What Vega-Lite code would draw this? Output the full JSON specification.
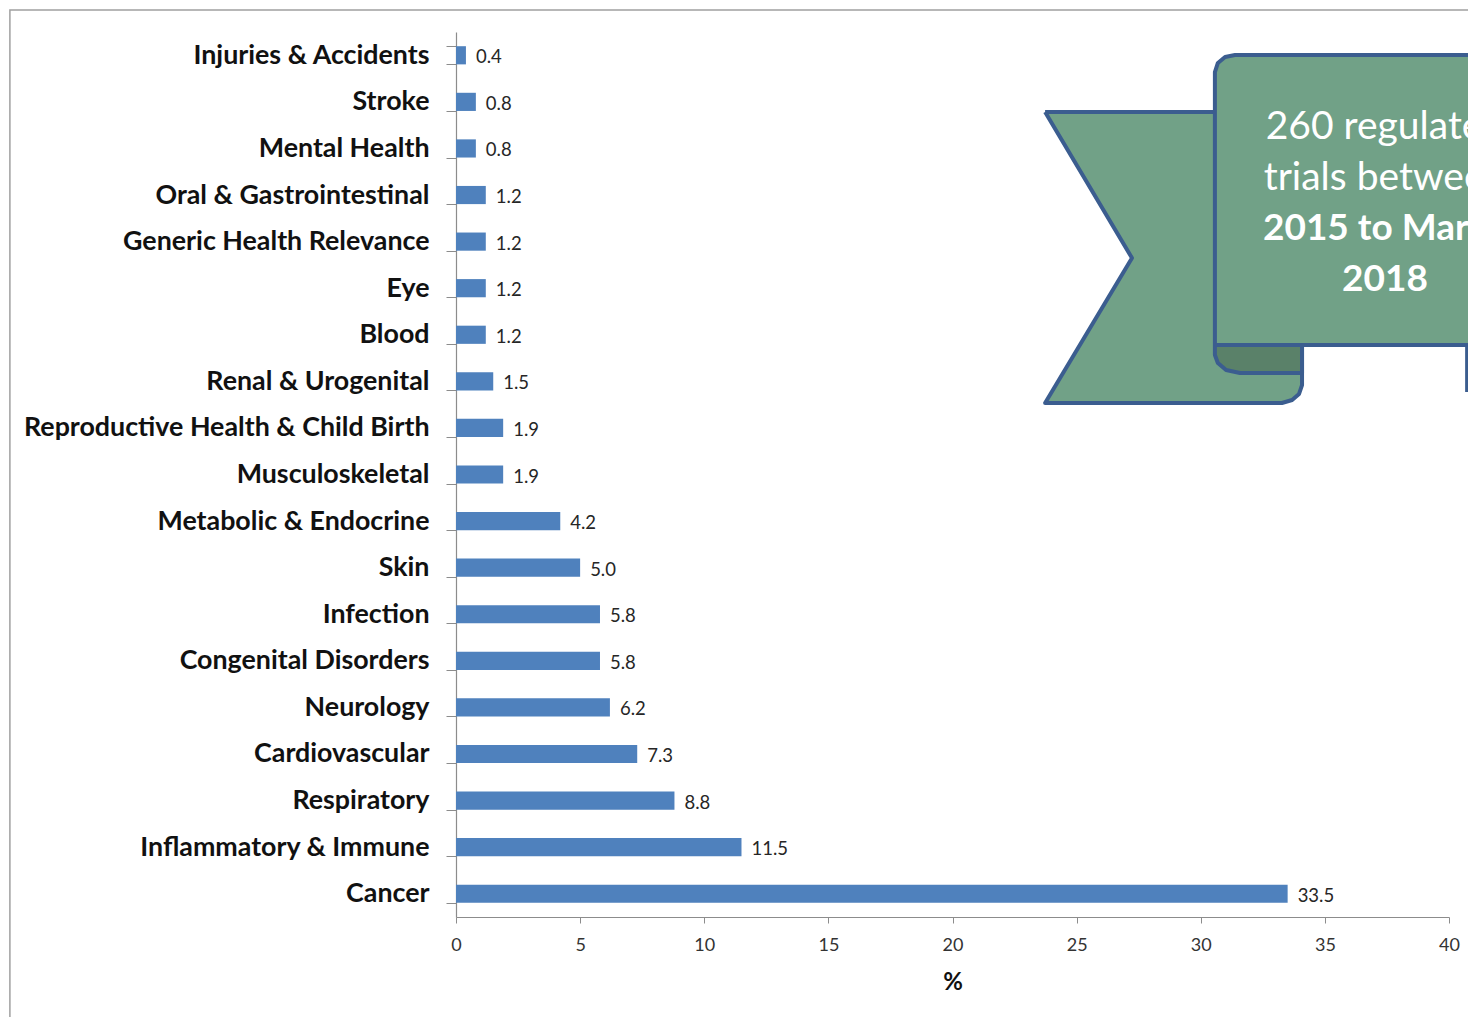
{
  "$schema": "https://vega.github.io/schema/vega-lite/v6.json",
  "width": 993,
  "height": 885,
  "autosize": "none",
  "padding": {"left": 456, "top": 32, "right": 19, "bottom": 100},
  "background": "white",
  "config": {"view": {"stroke": null}},
  "datasets": {
    "bars": [
      {"category": "Injuries & Accidents", "pct": 0.4},
      {"category": "Stroke", "pct": 0.8},
      {"category": "Mental Health", "pct": 0.8},
      {"category": "Oral & Gastrointestinal", "pct": 1.2},
      {"category": "Generic Health Relevance", "pct": 1.2},
      {"category": "Eye", "pct": 1.2},
      {"category": "Blood", "pct": 1.2},
      {"category": "Renal & Urogenital", "pct": 1.5},
      {"category": "Reproductive Health & Child Birth", "pct": 1.9},
      {"category": "Musculoskeletal", "pct": 1.9},
      {"category": "Metabolic & Endocrine", "pct": 4.2},
      {"category": "Skin", "pct": 5.0},
      {"category": "Infection", "pct": 5.8},
      {"category": "Congenital Disorders", "pct": 5.8},
      {"category": "Neurology", "pct": 6.2},
      {"category": "Cardiovascular", "pct": 7.3},
      {"category": "Respiratory", "pct": 8.8},
      {"category": "Inflammatory & Immune", "pct": 11.5},
      {"category": "Cancer", "pct": 33.5}
    ],
    "frame": [
      {"x0": -17.97, "x1": 50, "y0": -20, "y1": 102.49}
    ],
    "banner": [
      {"piece": "back", "i": 1, "bx": 23.73, "by": 90.96},
      {"piece": "back", "i": 2, "bx": 34.08, "by": 90.96},
      {"piece": "back", "i": 3, "bx": 34.08, "by": 60.11},
      {"piece": "back", "i": 4, "bx": 33.96, "by": 59.10},
      {"piece": "back", "i": 5, "bx": 33.68, "by": 58.42},
      {"piece": "back", "i": 6, "bx": 33.27, "by": 58.08},
      {"piece": "back", "i": 7, "bx": 23.73, "by": 58.08},
      {"piece": "back", "i": 8, "bx": 27.23, "by": 74.46},
      {"piece": "back", "i": 9, "bx": 23.73, "by": 90.96},
      {"piece": "fold", "i": 1, "bx": 30.57, "by": 64.63},
      {"piece": "fold", "i": 2, "bx": 34.08, "by": 64.63},
      {"piece": "fold", "i": 3, "bx": 34.08, "by": 61.47},
      {"piece": "fold", "i": 4, "bx": 31.58, "by": 61.47},
      {"piece": "fold", "i": 5, "bx": 31.02, "by": 61.81},
      {"piece": "fold", "i": 6, "bx": 30.69, "by": 62.60},
      {"piece": "fold", "i": 7, "bx": 30.57, "by": 63.50},
      {"piece": "fold", "i": 8, "bx": 30.57, "by": 64.63},
      {"piece": "front", "i": 1, "bx": 30.57, "by": 64.63},
      {"piece": "front", "i": 2, "bx": 30.57, "by": 95.48},
      {"piece": "front", "i": 3, "bx": 30.69, "by": 96.50},
      {"piece": "front", "i": 4, "bx": 30.98, "by": 97.18},
      {"piece": "front", "i": 5, "bx": 31.38, "by": 97.40},
      {"piece": "front", "i": 6, "bx": 42.86, "by": 97.40},
      {"piece": "front", "i": 7, "bx": 42.86, "by": 64.63},
      {"piece": "front", "i": 8, "bx": 30.57, "by": 64.63},
      {"piece": "edge", "i": 1, "bx": 40.73, "by": 64.63},
      {"piece": "edge", "i": 2, "bx": 40.73, "by": 59.32}
    ],
    "bannerText": [
      {"line": "260 regulated", "tx": 37.42, "ty": 89.26, "bold": false},
      {"line": "trials between", "tx": 37.42, "ty": 83.50, "bold": false},
      {"line": "2015 to March", "tx": 37.42, "ty": 77.74, "bold": true},
      {"line": "2018", "tx": 37.42, "ty": 71.97, "bold": true}
    ]
  },
  "layer": [
    {
      "data": {"name": "bars"},
      "encoding": {
        "y": {
          "field": "category",
          "type": "nominal",
          "sort": null,
          "scale": {"paddingInner": 0.61, "paddingOuter": 0.305},
          "axis": {
            "title": null,
            "labelFont": "Lato",
            "labelFontWeight": "bold",
            "labelFontSize": 26.8,
            "labelColor": "#111111",
            "labelPadding": 17,
            "labelLimit": 600,
            "tickBand": "extent",
            "tickSize": 10,
            "tickColor": "#8c8c8c",
            "domainColor": "#8c8c8c",
            "domainWidth": 1.2
          }
        },
        "x": {
          "field": "pct",
          "type": "quantitative",
          "scale": {"domain": [0, 40], "nice": false},
          "title": "%",
          "axis": {
            "values": [0, 5, 10, 15, 20, 25, 30, 35, 40],
            "grid": false,
            "tickSize": 6,
            "tickColor": "#8c8c8c",
            "domainColor": "#8c8c8c",
            "domainWidth": 1.2,
            "labelFlush": false,
            "labelFont": "Lato",
            "labelFontSize": 18,
            "labelColor": "#333333",
            "labelPadding": 13,
            "titleFont": "Lato",
            "titleFontSize": 24,
            "titleFontWeight": "bold",
            "titleColor": "#111111",
            "titlePadding": 16
          }
        }
      },
      "layer": [
        {"mark": {"type": "bar", "color": "#4F81BD"}},
        {
          "mark": {"type": "text", "align": "left", "baseline": "middle", "dx": 10, "dy": 2, "font": "Lato", "fontSize": 18.5, "color": "#262626"},
          "encoding": {"text": {"field": "pct", "type": "quantitative", "format": ".1f"}}
        }
      ]
    },
    {
      "layer": [
        {
          "data": {"name": "frame"},
          "mark": {"type": "rect", "filled": false, "color": "#a0a0a0", "strokeWidth": 1.5},
          "encoding": {
            "x": {"field": "x0", "type": "quantitative", "scale": {"domain": [0, 40], "nice": false}, "axis": null},
            "x2": {"field": "x1"},
            "y": {"field": "y0", "type": "quantitative", "scale": {"domain": [0, 100], "nice": false, "zero": false}, "axis": null},
            "y2": {"field": "y1"}
          }
        },
        {
          "data": {"name": "banner"},
          "transform": [{"filter": "datum.piece === 'back'"}],
          "mark": {"type": "line", "fill": "#71A187", "stroke": "#3B5D8F", "strokeWidth": 4, "strokeJoin": "round"},
          "encoding": {
            "x": {"field": "bx", "type": "quantitative", "scale": {"domain": [0, 40], "nice": false}, "axis": null},
            "y": {"field": "by", "type": "quantitative", "scale": {"domain": [0, 100], "nice": false, "zero": false}, "axis": null},
            "order": {"field": "i", "type": "quantitative"}
          }
        },
        {
          "data": {"name": "banner"},
          "transform": [{"filter": "datum.piece === 'fold'"}],
          "mark": {"type": "line", "fill": "#5A8169", "stroke": "#3B5D8F", "strokeWidth": 4, "strokeJoin": "round"},
          "encoding": {
            "x": {"field": "bx", "type": "quantitative", "scale": {"domain": [0, 40], "nice": false}, "axis": null},
            "y": {"field": "by", "type": "quantitative", "scale": {"domain": [0, 100], "nice": false, "zero": false}, "axis": null},
            "order": {"field": "i", "type": "quantitative"}
          }
        },
        {
          "data": {"name": "banner"},
          "transform": [{"filter": "datum.piece === 'front'"}],
          "mark": {"type": "line", "fill": "#71A187", "stroke": "#3B5D8F", "strokeWidth": 4, "strokeJoin": "round"},
          "encoding": {
            "x": {"field": "bx", "type": "quantitative", "scale": {"domain": [0, 40], "nice": false}, "axis": null},
            "y": {"field": "by", "type": "quantitative", "scale": {"domain": [0, 100], "nice": false, "zero": false}, "axis": null},
            "order": {"field": "i", "type": "quantitative"}
          }
        },
        {
          "data": {"name": "banner"},
          "transform": [{"filter": "datum.piece === 'edge'"}],
          "mark": {"type": "line", "stroke": "#3B5D8F", "strokeWidth": 4},
          "encoding": {
            "x": {"field": "bx", "type": "quantitative", "scale": {"domain": [0, 40], "nice": false}, "axis": null},
            "y": {"field": "by", "type": "quantitative", "scale": {"domain": [0, 100], "nice": false, "zero": false}, "axis": null},
            "order": {"field": "i", "type": "quantitative"}
          }
        },
        {
          "data": {"name": "bannerText"},
          "transform": [{"filter": "!datum.bold"}],
          "mark": {"type": "text", "align": "center", "baseline": "middle", "font": "Lato", "fontSize": 39, "color": "white"},
          "encoding": {
            "x": {"field": "tx", "type": "quantitative", "scale": {"domain": [0, 40], "nice": false}, "axis": null},
            "y": {"field": "ty", "type": "quantitative", "scale": {"domain": [0, 100], "nice": false, "zero": false}, "axis": null},
            "text": {"field": "line"}
          }
        },
        {
          "data": {"name": "bannerText"},
          "transform": [{"filter": "datum.bold"}],
          "mark": {"type": "text", "align": "center", "baseline": "middle", "font": "Lato", "fontSize": 37, "fontWeight": "bold", "color": "white"},
          "encoding": {
            "x": {"field": "tx", "type": "quantitative", "scale": {"domain": [0, 40], "nice": false}, "axis": null},
            "y": {"field": "ty", "type": "quantitative", "scale": {"domain": [0, 100], "nice": false, "zero": false}, "axis": null},
            "text": {"field": "line"}
          }
        }
      ]
    }
  ],
  "resolve": {"scale": {"y": "independent"}, "axis": {"y": "independent", "x": "independent"}}
}
